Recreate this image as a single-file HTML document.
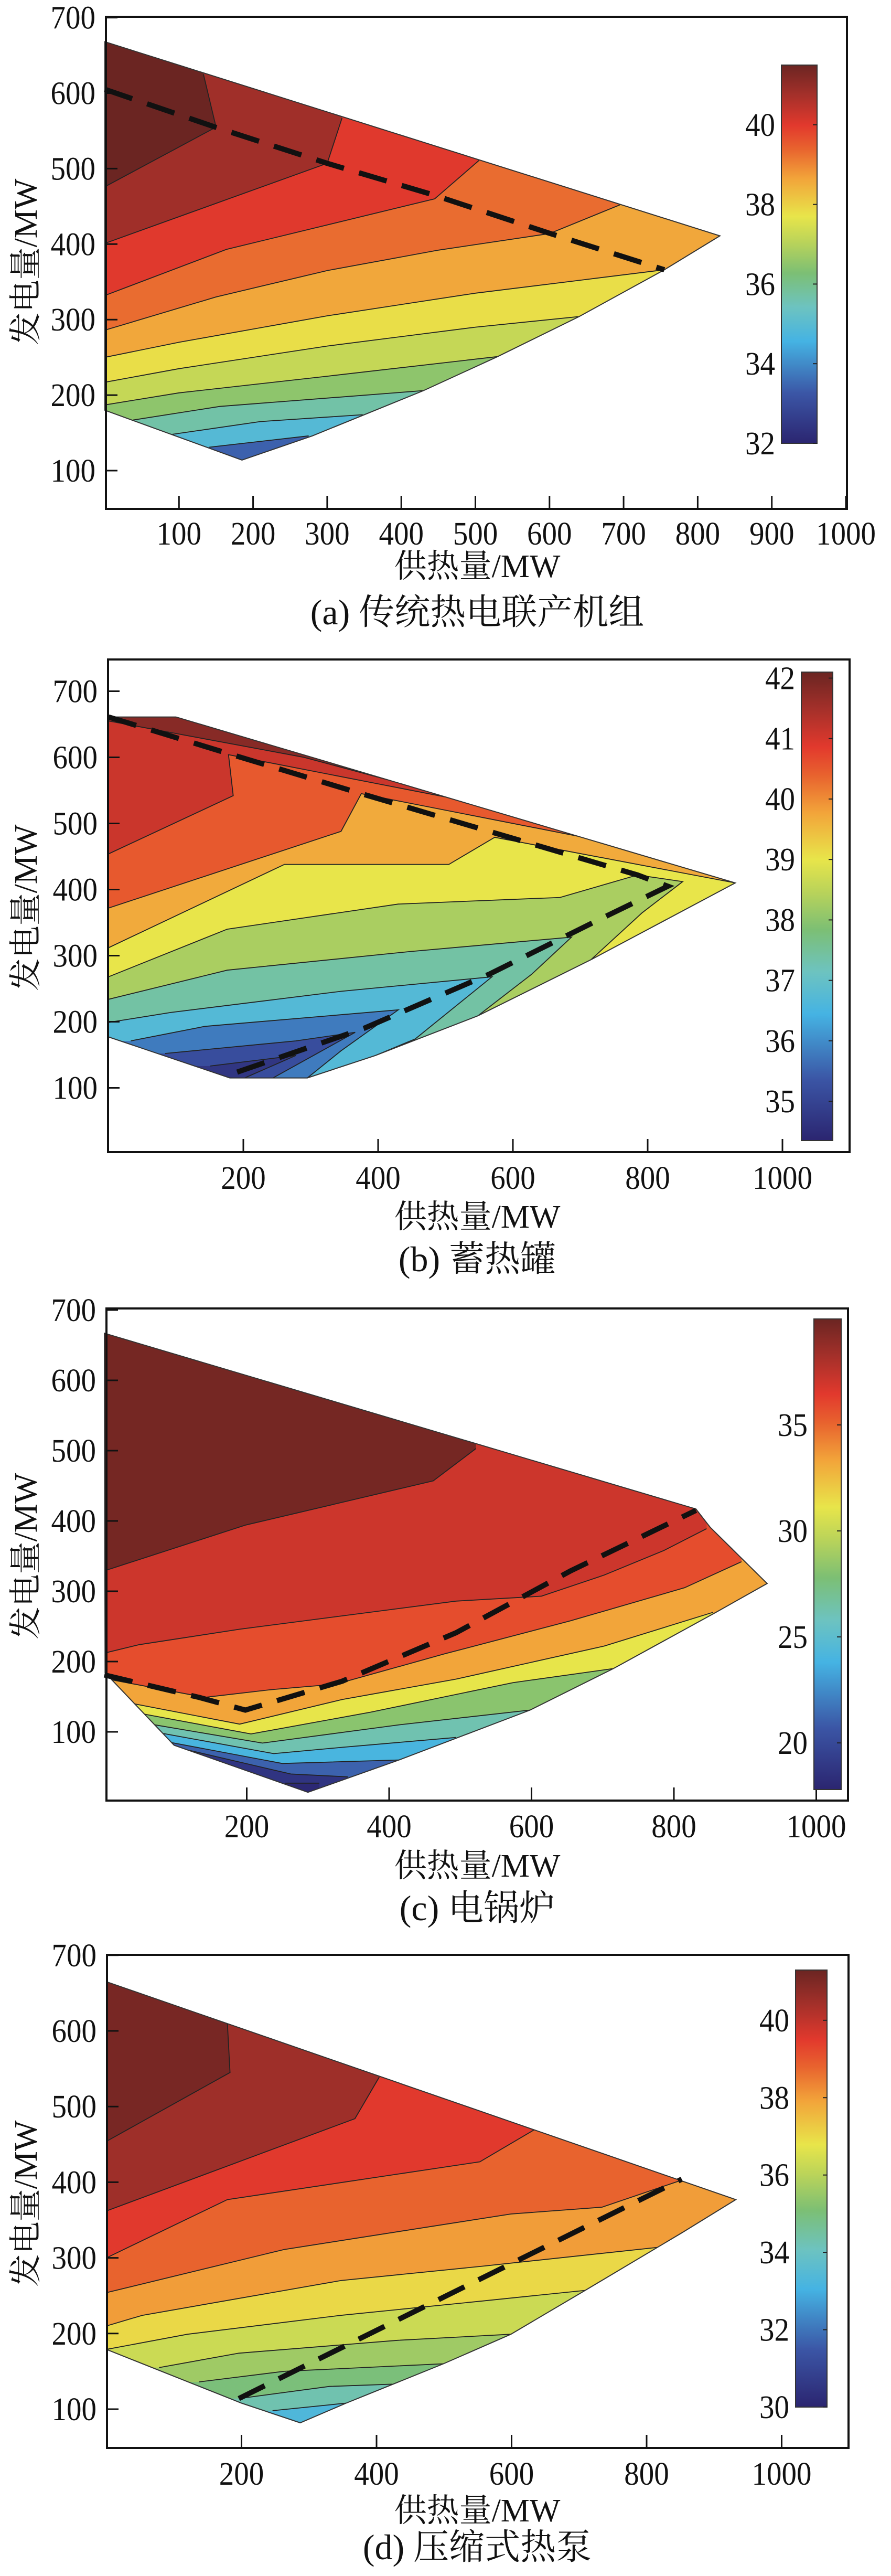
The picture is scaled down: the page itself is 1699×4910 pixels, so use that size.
<!DOCTYPE html>
<html><head><meta charset="utf-8">
<style>
html,body{margin:0;padding:0;background:#fff;overflow:hidden;}
svg{display:block;}
text{font-family:"Liberation Serif","Noto Serif CJK SC","Noto Sans CJK SC",serif;fill:#111;}
</style></head>
<body>
<svg id="fig" width="1699" height="4910" viewBox="0 0 1699 4910" xmlns="http://www.w3.org/2000/svg"></svg>
<script>
// ---------- Panel (a) data ----------
const aOutline = [[0,668],[830,411],[755,366],[640,304],[530,251],[430,206],[280,146],[185,114],[0,180]];
const aBase = 41.5;
const aContours = [
 [[0,476],[150,555],[133,625]],
 [[0,401],[300,507],[320,567]],
 [[0,332],[164,393],[445,460],[505,511]],
 [[0,286],[150,330],[300,365],[450,392],[600,414],[695,452]],
 [[0,250],[100,270],[300,305],[500,335],[640,352],[755,366]],
 [[0,217],[100,235],[300,265],[500,290],[640,304]],
 [[0,187],[100,203],[300,225],[530,251]],
 [[38,167],[155,185],[430,206]],
 [[91,148],[210,165],[348,174]],
 [[141,131],[275,146]]
];
const aLevels = [40.8,40.0,39.3,38.6,37.8,37.2,36.5,35.7,34.9,33.4];
const aClose = ['right','right','right','right','down','down','down','down','down','down'];
const aDash = [[0,605],[149,555],[300,507],[444,465],[598,415],[755,366]];
const aXTicks = [100,200,300,400,500,600,700,800,900,1000];
const aYTicks = [100,200,300,400,500,600,700];
const aCbTicks = [32,34,36,38,40];

// ---------- Panel (b) data ----------
const bOutline = [[0,661],[100,661],[930,410],[716,294],[548,209],[396,149],[295,115],[180,115],[0,177]];
const bBase = 39.0;
const bContours = [
 [[0,312],[261,438],[505,438],[573,479],[930,410]],
 [[0,372],[345,488],[375,545],[700,480]],
 [[0,454],[185,542],[178,604],[500,540]],
 [[0,655],[290,600],[480,548]],
 [[0,268],[176,340],[430,378],[670,388],[785,422],[852,412],[792,365],[716,294]],
 [[0,234],[176,278],[446,306],[687,328],[628,272],[548,209]],
 [[0,199],[92,214],[345,246],[569,268],[455,174],[396,149]],
 [[33,171],[143,193],[430,218],[345,156],[295,115]],
 [[84,152],[278,171],[366,184],[244,115]],
 [[151,133],[278,149],[202,115]]
];
const bLevels = [39.7,40.5,41.1,41.8,38.3,37.4,36.7,35.8,35.2,34.7];
const bClose = ['up','up','up','up','down','down','down','down','down','down'];
const bDash = [[0,661],[180,605],[375,545],[575,485],[785,422],[830,405],[725,353],[565,272],[379,190],[180,120]];
const bXTicks = [200,400,600,800,1000];
const bYTicks = [100,200,300,400,500,600,700];
const bCbTicks = [35,36,37,38,39,40,41,42];

// ---------- Panel (c) data ----------
const cOutline = [[0,667],[831,417],[851,391],[931,311],[859,270],[715,190],[598,131],[414,60],[286,14],[98,81],[1,184]];
const cBase = 39.7;
const cContours = [
 [[0,329],[198,394],[462,457],[522,503]],
 [[0,212],[49,224],[190,246],[494,286],[614,293],[702,323],[786,358],[846,389]],
 [[5,175],[141,149],[234,160],[326,168],[478,211],[655,258],[815,305],[895,342]],
 [[41,140],[190,111],[334,146],[494,175],[702,222],[855,270]],
 [[57,125],[206,97],[374,128],[574,170],[715,190]],
 [[65,111],[222,84],[414,110],[598,131]],
 [[81,98],[238,69],[334,78],[494,92]],
 [[93,85],[250,55],[414,60]],
 [[101,78],[262,40],[342,36]],
 [[254,27],[302,27]]
];
const cLevels = [37.1,35.8,33.3,31.1,28.2,26.2,24.0,21.1,18.7,18.0];
const cClose = ['right','right','right','down','down','down','down','down','down','down'];
const cDash = [[0,181],[133,149],[198,131],[334,172],[494,241],[655,329],[831,415]];
const cXTicks = [200,400,600,800,1000];
const cYTicks = [100,200,300,400,500,600,700];
const cCbTicks = [20,25,30,35];

// ---------- Panel (d) data ----------
const dOutline = [[0,665],[932,377],[852,333],[709,257],[599,199],[499,160],[355,108],[287,82],[200,108],[0,179]];
const dBase = 41.1;
const dContours = [
 [[0,454],[183,545],[179,611]],
 [[0,362],[368,484],[404,539]],
 [[0,300],[179,377],[553,427],[633,469]],
 [[0,254],[263,311],[599,358],[734,367],[856,404]],
 [[0,210],[53,224],[347,270],[557,289],[818,314],[852,333]],
 [[0,179],[120,199],[347,224],[557,243],[709,257]],
 [[78,155],[196,174],[431,191],[599,199]],
 [[137,136],[263,150],[499,160]],
 [[196,114],[330,130],[423,133]],
 [[246,98],[355,108]]
];
const dLevels = [40.5,39.5,38.8,38.0,37.0,36.3,35.6,35.0,34.3,33.3];
const dClose = ['right','right','right','right','down','down','down','down','down','down'];
const dDash = [[196,114],[852,404]];
const dXTicks = [200,400,600,800,1000];
const dYTicks = [100,200,300,400,500,600,700];
const dCbTicks = [30,32,34,36,38,40];

// ---------- rendering ----------
const NS = 'http://www.w3.org/2000/svg';
const svg = document.getElementById('fig');
const stops = [[0,'#2b2570'],[0.13,'#3b55a5'],[0.27,'#45b3e3'],[0.36,'#6dc3c0'],[0.45,'#7cbf74'],[0.53,'#b9d35a'],[0.6,'#e8e54a'],[0.7,'#f2a43a'],[0.78,'#e8622e'],[0.84,'#e2392d'],[0.92,'#a5302a'],[1,'#6b2522']];
function hex(c){return [1,3,5].map(i=>parseInt(c.substr(i,2),16));}
function cmap(t){
  t=Math.max(0,Math.min(1,t));
  for(let i=1;i<stops.length;i++){
    if(t<=stops[i][0]){
      const a=stops[i-1],b=stops[i];const f=(t-a[0])/(b[0]-a[0]);
      const ca=hex(a[1]),cb=hex(b[1]);
      return 'rgb('+ca.map((v,k)=>Math.round(v+(cb[k]-v)*f)).join(',')+')';
    }
  }
  return stops[stops.length-1][1];
}
function mk(tag,attrs,parent){const e=document.createElementNS(NS,tag);for(const k in attrs)e.setAttribute(k,attrs[k]);(parent||svg).appendChild(e);return e;}

const panels = [
 {id:'a',outline:aOutline,base:aBase,contours:aContours,levels:aLevels,close:aClose,dash:aDash,xt:aXTicks,yt:aYTicks,cbt:aCbTicks,
  L:202,R:1615,T:32,B:970,x0:200,xs:1.413,y100:897,ys:1.439,cb:[1490,124,68,721],cmin:32,cmax:41.5,
  xlY:1038,xtY:1100,capY:1190,ylY:499,cap:'(a) 传统热电联产机组'},
 {id:'b',outline:bOutline,base:bBase,contours:bContours,levels:bLevels,close:bClose,dash:bDash,xt:bXTicks,yt:bYTicks,cbt:bCbTicks,
  L:206,R:1620,T:1257,B:2196,x0:207,xs:1.285,y100:2073.5,ys:1.26,cb:[1528,1281,60,893],cmin:34.35,cmax:42.1,
  xlY:2266,xtY:2340,capY:2423,ylY:1730,cap:'(b) 蓄热罐'},
 {id:'c',outline:cOutline,base:cBase,contours:cContours,levels:cLevels,close:cClose,dash:cDash,xt:cXTicks,yt:cYTicks,cbt:cCbTicks,
  L:203,R:1617,T:2494,B:3432,x0:199,xs:1.3575,y100:3301,ys:1.34,cb:[1552,2514,52,897],cmin:17.8,cmax:40,
  xlY:3502,xtY:3577,capY:3660,ylY:2966,cap:'(c) 电锅炉'},
 {id:'d',outline:dOutline,base:dBase,contours:dContours,levels:dLevels,close:dClose,dash:dDash,xt:dXTicks,yt:dYTicks,cbt:dCbTicks,
  L:204,R:1618,T:3726,B:4666,x0:203,xs:1.2875,y100:4592,ys:1.442,cb:[1517,3755,60,833],cmin:30,cmax:41.3,
  xlY:4736,xtY:4806,capY:4878,ylY:4200,cap:'(d) 压缩式热泵'}
];

panels.forEach(p=>{
  const X=v=>p.x0+v*p.xs, Y=v=>p.y100-(v-100)*p.ys;
  const col=v=>cmap((v-p.cmin)/(p.cmax-p.cmin));
  const pts=a=>a.map(q=>X(q[0]).toFixed(1)+','+Y(q[1]).toFixed(1)).join(' ');
  const g=mk('g',{});
  
  
  const clip=mk('clipPath',{id:'clip-'+p.id},g);
  mk('polygon',{points:pts(p.outline)},clip);
  const plot=mk('g',{'clip-path':'url(#clip-'+p.id+')'},g);
  
  
  const base=mk('polygon',{points:pts(p.outline),fill:col(p.base)},plot);
  
  
  const LO=-60, HI=760, LX=-20, RX=1050;
  p.contours.forEach((c,i)=>{
    const f=c[0],l=c[c.length-1];let ext;
    if(p.close[i]==='down') ext=[[l[0],LO],[LX,LO],[LX,f[1]]];
    else if(p.close[i]==='up') ext=[[l[0],HI],[LX,HI],[LX,f[1]]];
    else ext=[[l[0],HI],[RX,HI],[RX,LO],[LX,LO],[LX,f[1]]];
    const band=mk('polygon',{points:pts(c.concat(ext)),fill:col(p.levels[i])},plot);
    
    
  });
  p.contours.forEach(c=>{
    const ln=mk('polyline',{points:pts(c),fill:'none',stroke:'#222','stroke-width':1.8},plot);
    
    
  });
  const ol=mk('polygon',{points:pts(p.outline),fill:'none',stroke:'#333','stroke-width':2},g);
  
  
  const ds=mk('polyline',{points:pts(p.dash),fill:'none',stroke:'#111','stroke-width':10,'stroke-dasharray':'55 30'},g);
  
  
  const ax=mk('rect',{x:p.L,y:p.T,width:p.R-p.L,height:p.B-p.T,fill:'none',stroke:'#111','stroke-width':4},g);
  
  
  p.xt.forEach(v=>{
    const x=X(v);
    const t=mk('line',{x1:x,x2:x,y1:p.B,y2:p.B-25,stroke:'#111','stroke-width':3},g);
    
    
    const tx=mk('text',{x:x,y:p.xlY,'font-size':62,'text-anchor':'middle',textLength:String(v).length*28.5,lengthAdjust:'spacingAndGlyphs'},g);
    tx.textContent=v;
    
    
  });
  p.yt.forEach(v=>{
    const y=Y(v);
    const t=mk('line',{x1:p.L,x2:p.L+22,y1:y,y2:y,stroke:'#111','stroke-width':3},g);
    
    
    const tx=mk('text',{x:p.L-20,y:y+21,'font-size':62,'text-anchor':'end',textLength:String(v).length*28.5,lengthAdjust:'spacingAndGlyphs'},g);
    tx.textContent=v;
    
    
  });
  const xl=mk('text',{x:910,y:p.xtY,'font-size':62,'text-anchor':'middle'},g);
  xl.textContent='供热量/MW';
  
  
  const yl=mk('text',{x:0,y:0,'font-size':62,'text-anchor':'middle',transform:'translate(70,'+p.ylY+') rotate(-90)'},g);
  yl.textContent='发电量/MW';
  
  
  const cp=mk('text',{x:910,y:p.capY,'font-size':68,'text-anchor':'middle'},g);
  cp.textContent=p.cap;
  
  
  const gid='grad-'+p.id;
  const lg=mk('linearGradient',{id:gid,x1:0,y1:1,x2:0,y2:0},g);
  stops.forEach(s=>mk('stop',{offset:s[0],'stop-color':s[1]},lg));
  const [cx,cy,cw,chh]=p.cb;
  const cbr=mk('rect',{x:cx,y:cy,width:cw,height:chh,fill:'url(#'+gid+')',stroke:'#333','stroke-width':2},g);
  
  
  const CY=v=>cy+chh-(v-p.cmin)/(p.cmax-p.cmin)*chh;
  p.cbt.forEach(v=>{
    const y=CY(v);
    const t=mk('line',{x1:cx+cw-8,x2:cx+cw,y1:y,y2:y,stroke:'#222','stroke-width':2},g);
    
    
    const tx=mk('text',{x:cx-12,y:y+21,'font-size':62,'text-anchor':'end',textLength:String(v).length*28.5,lengthAdjust:'spacingAndGlyphs'},g);
    tx.textContent=v;
    
    
  });
});
</script>
</body></html>
